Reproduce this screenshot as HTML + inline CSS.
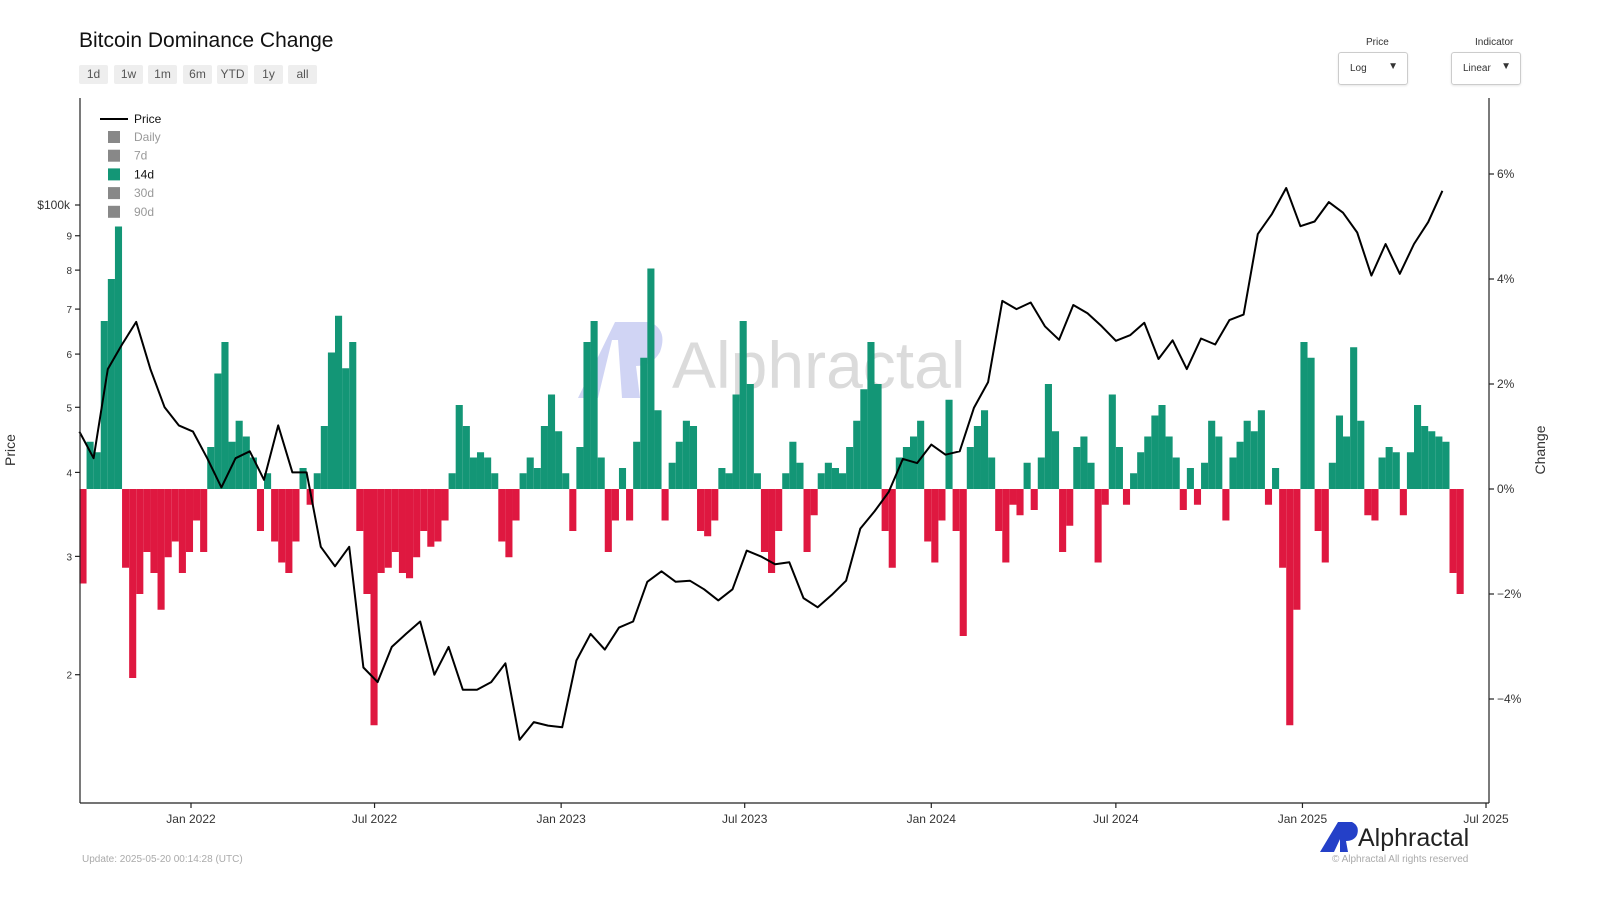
<!DOCTYPE html>
<html><head><meta charset="utf-8"><style>
body{margin:0;width:1600px;height:900px;background:#fff;font-family:"Liberation Sans",sans-serif;overflow:hidden;position:relative}
.title{position:absolute;left:79px;top:29px;font-size:21px;color:#111}
.btn{position:absolute;top:65px;height:19px;background:#eee;color:#555;font-size:12px;line-height:19px;text-align:center;border-radius:2px}
.lbl{position:absolute;font-size:10px;color:#333}
.dd{position:absolute;top:52px;width:68px;height:31px;border:1px solid #ccc;border-radius:3px;font-size:10px;color:#333;box-shadow:0 1px 2px rgba(0,0,0,.1)}
.dd span{position:absolute;left:11px;top:10px}
.dd b{position:absolute;right:9px;top:8px;font-size:10px}
</style></head><body>
<div class="title">Bitcoin Dominance Change</div>
<div class="btn" style="left:79px;width:29px">1d</div>
<div class="btn" style="left:114px;width:29px">1w</div>
<div class="btn" style="left:148px;width:29px">1m</div>
<div class="btn" style="left:183px;width:29px">6m</div>
<div class="btn" style="left:217px;width:31px">YTD</div>
<div class="btn" style="left:254px;width:29px">1y</div>
<div class="btn" style="left:288px;width:29px">all</div>
<div class="lbl" style="left:1366px;top:37px">Price</div>
<div class="dd" style="left:1338px"><span>Log</span><b>▼</b></div>
<div class="lbl" style="left:1475px;top:37px">Indicator</div>
<div class="dd" style="left:1451px"><span>Linear</span><b>▼</b></div>
<svg id="chart" width="1600" height="900" style="position:absolute;left:0;top:0"></svg>
<script>
const barStart="2021-09-13";
const changeValues=[-1.8,0.9,0.7,3.2,4.0,5.0,-1.5,-3.6,-2.0,-1.2,-1.6,-2.3,-1.3,-1.0,-1.6,-1.2,-0.6,-1.2,0.8,2.2,2.8,0.9,1.3,1.0,0.6,-0.8,0.3,-1.0,-1.4,-1.6,-1.0,0.4,-0.3,0.3,1.2,2.6,3.3,2.3,2.8,-0.8,-2.0,-4.5,-1.6,-1.5,-1.2,-1.6,-1.7,-1.3,-0.8,-1.1,-1.0,-0.6,0.3,1.6,1.2,0.6,0.7,0.6,0.3,-1.0,-1.3,-0.6,0.3,0.6,0.4,1.2,1.8,1.1,0.3,-0.8,0.8,2.8,3.2,0.6,-1.2,-0.6,0.4,-0.6,0.9,2.5,4.2,1.5,-0.6,0.5,0.9,1.3,1.2,-0.8,-0.9,-0.6,0.4,0.3,1.8,3.2,2.0,0.3,-1.2,-1.6,-0.8,0.3,0.9,0.5,-1.2,-0.5,0.3,0.5,0.4,0.3,0.8,1.3,1.9,2.8,2.0,-0.8,-1.5,0.6,0.8,1.0,1.3,-1.0,-1.4,-0.6,1.7,-0.8,-2.8,0.8,1.2,1.5,0.6,-0.8,-1.4,-0.3,-0.5,0.5,-0.4,0.6,2.0,1.1,-1.2,-0.7,0.8,1.0,0.5,-1.4,-0.3,1.8,0.8,-0.3,0.3,0.7,1.0,1.4,1.6,1.0,0.6,-0.4,0.4,-0.3,0.5,1.3,1.0,-0.6,0.6,0.9,1.3,1.1,1.5,-0.3,0.4,-1.5,-4.5,-2.3,2.8,2.5,-0.8,-1.4,0.5,1.4,1.0,2.7,1.3,-0.5,-0.6,0.6,0.8,0.7,-0.5,0.7,1.6,1.2,1.1,1.0,0.9,-1.6,-2.0];
const priceDates=["2021-09-13","2021-09-27","2021-10-11","2021-10-25","2021-11-08","2021-11-22","2021-12-06","2021-12-20","2022-01-03","2022-01-17","2022-01-31","2022-02-14","2022-02-28","2022-03-14","2022-03-28","2022-04-11","2022-04-25","2022-05-09","2022-05-23","2022-06-06","2022-06-20","2022-07-04","2022-07-18","2022-08-01","2022-08-15","2022-08-29","2022-09-12","2022-09-26","2022-10-10","2022-10-24","2022-11-07","2022-11-21","2022-12-05","2022-12-19","2023-01-02","2023-01-16","2023-01-30","2023-02-13","2023-02-27","2023-03-13","2023-03-27","2023-04-10","2023-04-24","2023-05-08","2023-05-22","2023-06-05","2023-06-19","2023-07-03","2023-07-17","2023-07-31","2023-08-14","2023-08-28","2023-09-11","2023-09-25","2023-10-09","2023-10-23","2023-11-06","2023-11-20","2023-12-04","2023-12-18","2024-01-01","2024-01-15","2024-01-29","2024-02-12","2024-02-26","2024-03-11","2024-03-25","2024-04-08","2024-04-22","2024-05-06","2024-05-20","2024-06-03","2024-06-17","2024-07-01","2024-07-15","2024-07-29","2024-08-12","2024-08-26","2024-09-09","2024-09-23","2024-10-07","2024-10-21","2024-11-04","2024-11-18","2024-12-02","2024-12-16","2024-12-30","2025-01-13","2025-01-27","2025-02-10","2025-02-24","2025-03-10","2025-03-24","2025-04-07","2025-04-21","2025-05-05","2025-05-19"];
const priceValues=[46,42,57,62,67,57,50,47,46,42,38,42,43,39,47,40,40,31,29,31,20.5,19.5,22,23,24,20,22,19,19,19.5,20.8,16,17,16.8,16.7,21,23,21.8,23.5,24,27.5,28.5,27.5,27.6,26.8,25.8,26.8,30.6,30,29.2,29.4,26,25.2,26.3,27.6,33,35,37.4,41.9,41.3,44,42.5,43,49.9,54.5,72,70,71.6,66,63,71,69,66,62.8,64,66.8,59,62.9,57,63.3,62,67.4,68.7,90.5,97,106,93,94.5,101,97.4,91,78.5,87.5,79,87.5,94.3,105];
const xTickLabels=["Jan 2022","Jul 2022","Jan 2023","Jul 2023","Jan 2024","Jul 2024","Jan 2025","Jul 2025"];
const xTickDates=["2022-01-01","2022-07-01","2023-01-01","2023-07-01","2024-01-01","2024-07-01","2025-01-01","2025-07-01"];
const leftTickValues=[100,90,80,70,60,50,40,30,20];
const leftTickLabels=["$100k","9","8","7","6","5","4","3","2"];
const rightTickValues=[6,4,2,0,-2,-4];
const rightTickLabels=["6%","4%","2%","0%","−2%","−4%"];

const NS="http://www.w3.org/2000/svg",svg=document.getElementById("chart");
const day=864e5,t0=Date.parse("2022-01-01");
const xScale=d=>191+(Date.parse(d)-t0)/day*1.0141;
const xDays=n=>191+n*1.0141;
const yPrice=p=>205+(2-Math.log10(p))*672;
const yChange=c=>489-c*52.5;
function mk(tag,attrs,parent){const e=document.createElementNS(NS,tag);for(const k in attrs)e.setAttribute(k,attrs[k]);(parent||svg).appendChild(e);return e;}

const wm=mk("g",{opacity:"0.35"});


mk("path",{d:"M578 398 L615 322 L640 322 L632 340 L612 340 L598 398 Z",fill:"#7b86e0"},wm);
mk("path",{d:"M628 322 L650 322 Q668 330 660 352 Q652 366 636 366 L640 398 L622 398 L618 340 Z",fill:"#7b86e0"},wm);
const wt=mk("text",{x:672,y:388,"font-size":"66","font-family":"Liberation Sans, sans-serif",fill:"#999"},wm);wt.textContent="Alphractal";

const bStart=(Date.parse(barStart)-t0)/day;
const bars=mk("g",{});


changeValues.forEach((v,i)=>{
  const x0=xDays(bStart+7*i),x1=xDays(bStart+7*(i+1));
  const y0=yChange(0),y1=yChange(v);
  const r=mk("rect",{x:x0,y:Math.min(y0,y1),width:Math.max(x1-x0,0.5),height:Math.abs(y1-y0),fill:v>=0?"#139676":"#df1840"},bars);
  
  
});

const pts=priceDates.map((d,i)=>xScale(d).toFixed(1)+","+yPrice(priceValues[i]).toFixed(1)).join(" ");
const pl=mk("polyline",{points:pts,fill:"none",stroke:"#000","stroke-width":"2","stroke-linejoin":"round"});



const ax=mk("g",{stroke:"#222","stroke-width":"1.2",fill:"none"});


mk("line",{x1:80,y1:98,x2:80,y2:803},ax);
mk("line",{x1:80,y1:803,x2:1489,y2:803},ax);
mk("line",{x1:1489,y1:98,x2:1489,y2:803},ax);
function txt(x,y,s,attrs,name){const t=mk("text",Object.assign({x:x,y:y,"font-size":"12","font-family":"Liberation Sans, sans-serif",fill:"#333"},attrs||{}));t.textContent=s;return t;}
xTickDates.forEach((d,i)=>{const x=xScale(d);mk("line",{x1:x,y1:803,x2:x,y2:808},ax);txt(x,823,xTickLabels[i],{"text-anchor":"middle"},'x-tick-label');});
leftTickValues.forEach((v,i)=>{const y=yPrice(v);mk("line",{x1:75,y1:y,x2:80,y2:y},ax);txt(i==0?70:72,y+4,leftTickLabels[i],{"text-anchor":"end","font-size":i==0?"12":"10"},'left-tick-label');});
rightTickValues.forEach((v,i)=>{const y=yChange(v);mk("line",{x1:1489,y1:y,x2:1494,y2:y},ax);txt(1497,y+4,rightTickLabels[i],{},'right-tick-label');});
txt(15,450,"Price",{transform:"rotate(-90 15 450)","text-anchor":"middle","font-size":"14"},'y-axis-title-left');
txt(1545,450,"Change",{transform:"rotate(-90 1545 450)","text-anchor":"middle","font-size":"14"},'y-axis-title-right');

const lg=mk("g",{});


mk("line",{x1:100,y1:119,x2:128,y2:119,stroke:"#000","stroke-width":"2"},lg);
txt(134,123,"Price",{fill:"#111"},'legend-price');
const lgItems=["Daily","7d","14d","30d","90d"];
lgItems.forEach((s,i)=>{const y=137+i*18.7;mk("rect",{x:108,y:y-6,width:12,height:12,fill:s=="14d"?"#139676":"#888"},lg);txt(134,y+4,s,{fill:s=="14d"?"#111":"#999"},'legend-'+s.toLowerCase());});

txt(82,862,"Update: 2025-05-20 00:14:28 (UTC)",{"font-size":"10",fill:"#aaa"},'update-timestamp');
const lgo=mk("g",{});


mk("path",{d:"M1320 852 L1338 822 L1348 822 L1334 852 Z",fill:"#2440c8"},lgo);
mk("path",{d:"M1344 822 L1352 822 Q1360 826 1357 835 Q1354 841 1346 841 L1348 852 L1340 852 L1340 830 Z",fill:"#2440c8"},lgo);
txt(1358,846,"Alphractal",{"font-size":"25",fill:"#222"},'brand-name');
txt(1332,862,"© Alphractal All rights reserved",{"font-size":"10",fill:"#aaa"},'copyright');
</script>
</body></html>
